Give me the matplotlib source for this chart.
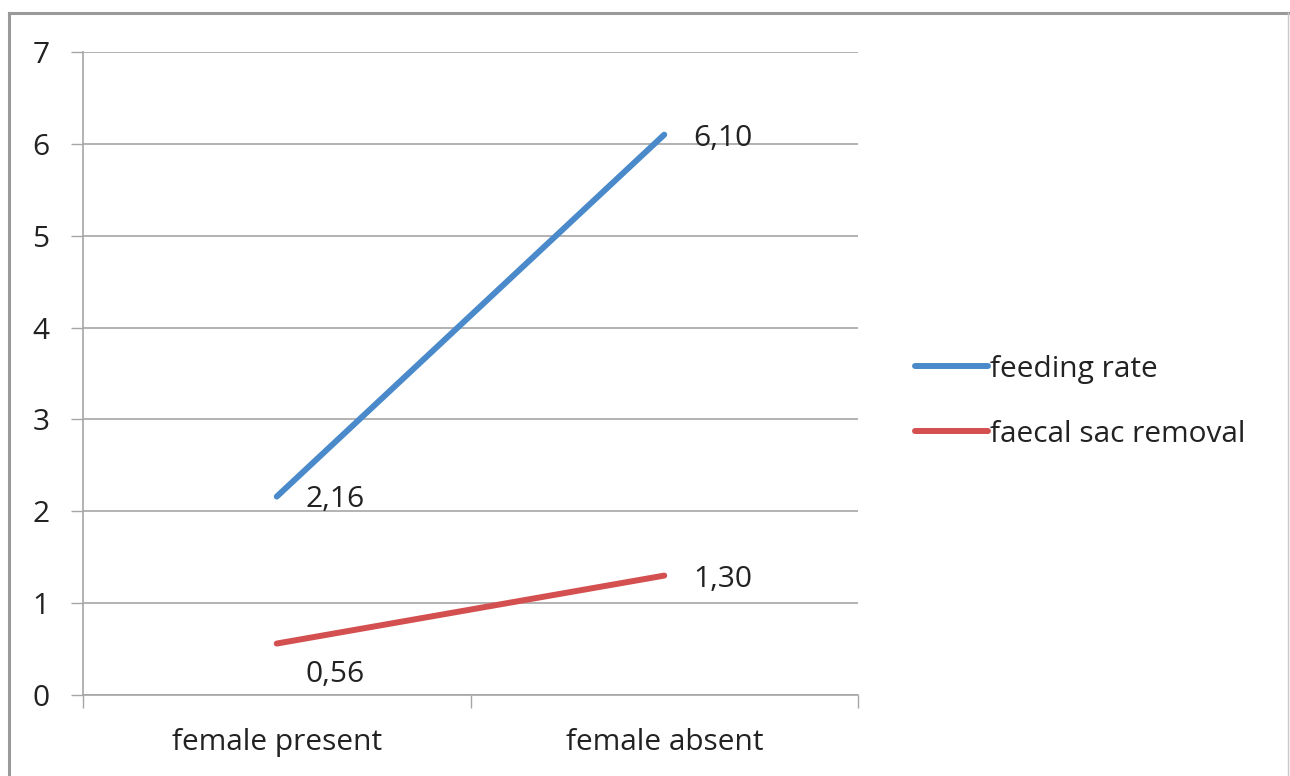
import matplotlib
matplotlib.use("Agg")
import matplotlib.pyplot as plt
from matplotlib.lines import Line2D

plt.rcParams['font.family'] = ['Open Sans', 'DejaVu Sans']

categories = ["female present", "female absent"]
feeding_rate = [2.16, 6.10]
faecal_sac = [0.56, 1.30]
series_names = ["feeding rate", "faecal sac removal"]

W, H = 1290, 776
fig = plt.figure(figsize=(W / 100, H / 100), dpi=100)
ax = fig.add_axes([83 / W, 1 - 695 / H, (858 - 83) / W, (695 - 52) / H])

x = [0.5, 1.5]
blue = '#4A8ACA'
red = '#D45050'
ax.plot(x, feeding_rate, color=blue, lw=4.3, solid_capstyle='round', label=series_names[0])
ax.plot(x, faecal_sac, color=red, lw=4.3, solid_capstyle='round', label=series_names[1])

def fmt(v):
    return f"{v:.2f}".replace('.', ',')

fs = 21.5
txt = '#222222'
# data labels
ax.annotate(fmt(feeding_rate[0]), (x[0], feeding_rate[0]), xytext=(21, -2),
            textcoords='offset points', fontsize=fs, va='center', ha='left', color=txt)
ax.annotate(fmt(feeding_rate[1]), (x[1], feeding_rate[1]), xytext=(21, -3),
            textcoords='offset points', fontsize=fs, va='center', ha='left', color=txt)
ax.annotate(fmt(faecal_sac[0]), (x[0], faecal_sac[0]), xytext=(21, -22),
            textcoords='offset points', fontsize=fs, va='center', ha='left', color=txt)
ax.annotate(fmt(faecal_sac[1]), (x[1], faecal_sac[1]), xytext=(21, -3),
            textcoords='offset points', fontsize=fs, va='center', ha='left', color=txt)

ax.set_xlim(0, 2)
ax.set_ylim(0, 7)
ax.set_yticks(range(8))
ax.set_xticks([0, 1, 2])
ax.set_xticks(x, minor=True)
ax.set_xticklabels([])
ax.set_xticklabels(categories, minor=True)
ax.tick_params(axis='x', which='minor', length=0, pad=24, labelsize=fs, labelcolor=txt)
ax.tick_params(axis='x', which='major', length=9, width=1, color='#a6a6a6', direction='out')
ax.tick_params(axis='y', length=9, width=1, color='#a6a6a6', pad=15, labelsize=fs, labelcolor=txt)
ax.yaxis.grid(True, color='#a6a6a6', lw=1.2)
ax.set_axisbelow(True)
for s in ['top', 'right']:
    ax.spines[s].set_visible(False)
for s in ['left', 'bottom']:
    ax.spines[s].set_color('#a6a6a6')
    ax.spines[s].set_linewidth(1.2)

leg = fig.legend(loc='upper left', bbox_to_anchor=(903 / W, 1 - 343 / H), frameon=False,
                 fontsize=fs, handlelength=2.45, handletextpad=0.08, labelspacing=1.2,
                 borderaxespad=0)
for t in leg.get_texts():
    t.set_color(txt)

# outer chart border
fig.add_artist(Line2D([9 / W, 9 / W], [0, 1 - 13 / H], color='#9a9a9a', lw=2.2,
                      transform=fig.transFigure))
fig.add_artist(Line2D([9 / W, 1288 / W], [1 - 13 / H, 1 - 13 / H], color='#9a9a9a', lw=2.2,
                      transform=fig.transFigure))
fig.add_artist(Line2D([1288 / W, 1288 / W], [0, 1 - 13 / H], color='#c8c8c8', lw=1,
                      transform=fig.transFigure))

fig.savefig("out.png", dpi=100)
